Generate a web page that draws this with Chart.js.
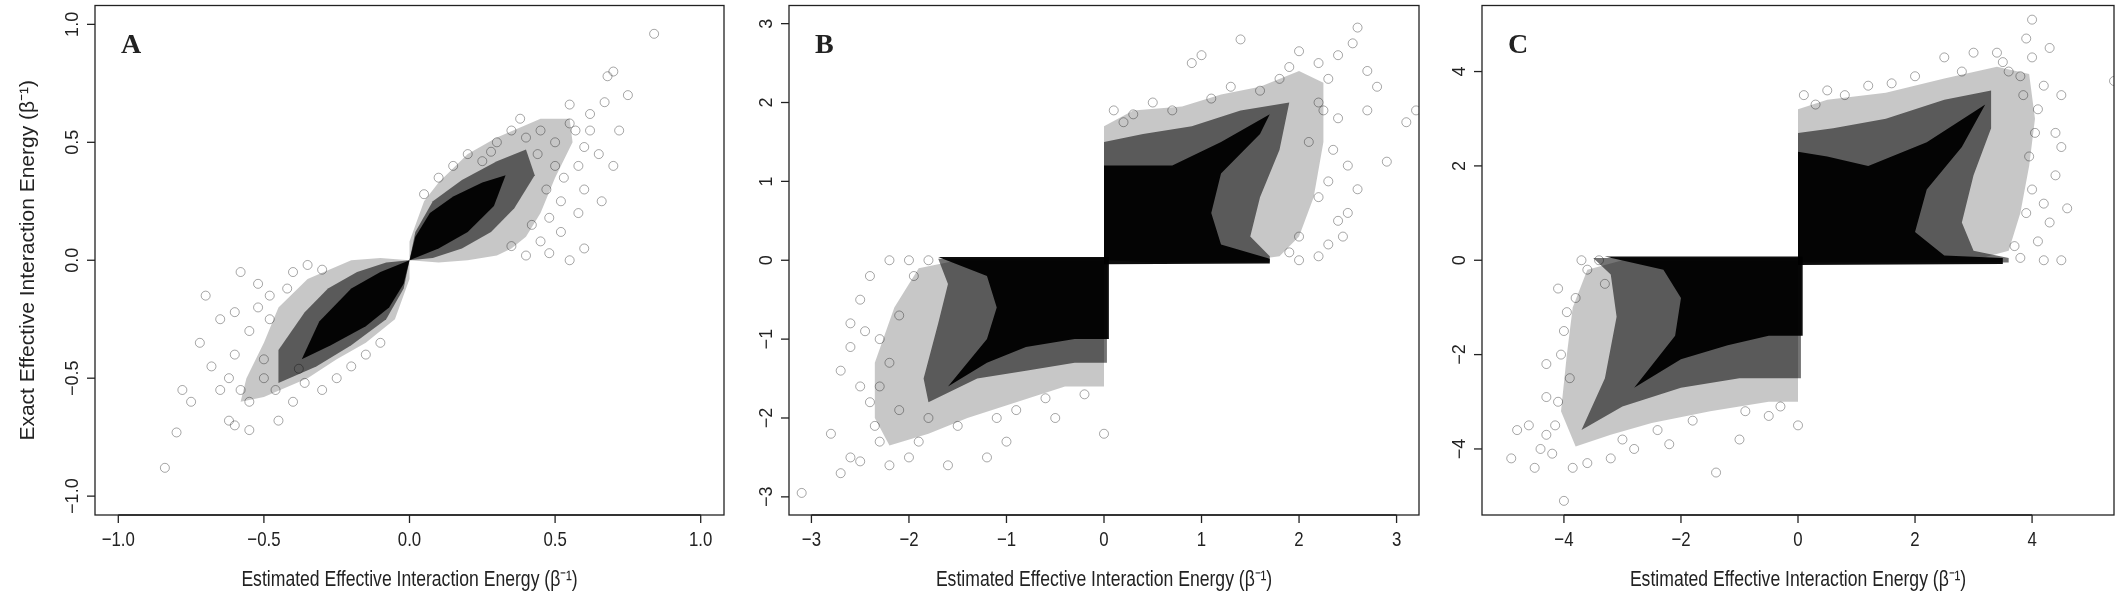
<!DOCTYPE html>
<html><head><meta charset="utf-8">
<script src="https://cdn.jsdelivr.net/npm/chart.js@4"></script>
<style>body{margin:0;background:#fff;width:2120px;height:600px;position:relative;overflow:hidden}
canvas{position:absolute;top:0}</style></head><body>
<canvas id="cA" style="left:0" width="730" height="600"></canvas>
<canvas id="cB" style="left:740px" width="685" height="600"></canvas>
<canvas id="cC" style="left:1430px" width="690" height="600"></canvas>
<script>
// ---- tick labels ----
const ticksA=[-1.0,-0.5,0.0,0.5,1.0];
const ticksB=[-3,-2,-1,0,1,2,3];
const ticksC=[-4,-2,0,2,4];
const xTitle='Estimated Effective Interaction Energy (β\u207B\u00B9)';
const yTitle='Exact Effective Interaction Energy (β\u207B\u00B9)';
// ---- panel A ----
const pointsA=[[0.84,0.96],[0.7,0.8],[0.68,0.78],[0.75,0.7],[0.67,0.67],[0.72,0.55],[0.62,0.62],[0.55,0.66],[0.65,0.45],[0.7,0.4],[0.6,0.3],[0.58,0.2],[0.6,0.05],[0.55,0.0],[0.48,0.03],[0.52,0.12],[0.45,0.55],[0.38,0.6],[0.35,0.55],[0.3,0.5],[0.2,0.45],[0.15,0.4],[0.62,0.55],[0.5,0.5],[0.4,0.02],[0.58,0.4],[0.66,0.25],[0.44,0.45],
[0.55,0.58],[0.5,0.4],[0.47,0.3],[0.52,0.25],[0.42,0.15],[0.45,0.08],[0.35,0.06],[0.28,0.46],[0.25,0.42],[0.1,0.35],[0.05,0.28],[0.6,0.48],[0.57,0.55],[0.4,0.52],[0.53,0.35],[0.48,0.18],
[-0.84,-0.88],[-0.8,-0.73],[-0.78,-0.55],[-0.75,-0.6],[-0.72,-0.35],[-0.7,-0.15],[-0.68,-0.45],[-0.65,-0.25],[-0.62,-0.68],[-0.6,-0.7],[-0.55,-0.72],[-0.58,-0.05],[-0.52,-0.1],[-0.55,-0.3],[-0.6,-0.4],[-0.45,-0.68],[-0.4,-0.6],[-0.3,-0.55],[-0.2,-0.45],[-0.25,-0.5],[-0.5,-0.5],[-0.65,-0.55],[-0.48,-0.15],[-0.4,-0.05],[-0.35,-0.02],
[-0.55,-0.6],[-0.5,-0.42],[-0.48,-0.25],[-0.52,-0.2],[-0.42,-0.12],[-0.3,-0.04],[-0.36,-0.52],[-0.15,-0.4],[-0.1,-0.35],[-0.58,-0.55],[-0.62,-0.5],[-0.46,-0.55],[-0.38,-0.46],[-0.6,-0.22]];
const haloA=[[[0,0],[0,0.08],[0.05,0.25],[0.1,0.33],[0.2,0.45],[0.3,0.52],[0.45,0.6],[0.55,0.6],[0.56,0.5],[0.5,0.35],[0.45,0.2],[0.4,0.1],[0.35,0.05],[0.3,0.02],[0.2,0.0],[0.1,-0.01]],
[[0,0],[0,-0.08],[-0.05,-0.25],[-0.15,-0.35],[-0.25,-0.42],[-0.35,-0.5],[-0.5,-0.58],[-0.58,-0.6],[-0.56,-0.5],[-0.5,-0.35],[-0.45,-0.2],[-0.35,-0.08],[-0.2,0.0],[-0.1,0.01]]];
const midA=[[[0,0],[0.02,0.12],[0.08,0.25],[0.18,0.34],[0.3,0.42],[0.4,0.47],[0.43,0.36],[0.36,0.22],[0.28,0.12],[0.18,0.05],[0.08,0.01]],
[[0,0],[-0.02,-0.12],[-0.08,-0.25],[-0.2,-0.36],[-0.32,-0.45],[-0.45,-0.52],[-0.45,-0.38],[-0.36,-0.22],[-0.28,-0.12],[-0.18,-0.05],[-0.08,-0.01]]];
const coreA=[[[0,0],[0.02,0.1],[0.07,0.2],[0.15,0.27],[0.25,0.33],[0.33,0.36],[0.29,0.23],[0.2,0.12],[0.1,0.05]],
[[0,0],[-0.02,-0.1],[-0.07,-0.2],[-0.15,-0.28],[-0.27,-0.36],[-0.37,-0.42],[-0.31,-0.26],[-0.2,-0.12],[-0.1,-0.05]]];
// ---- panel B ----
const pointsB=[[2.6,2.95],[2.55,2.75],[1.4,2.8],[1.0,2.6],[0.9,2.5],[2.0,2.65],[2.2,2.5],[2.7,2.4],[2.8,2.2],[3.2,1.9],[3.1,1.75],[2.9,1.25],[2.7,1.9],[2.4,1.8],[2.5,1.2],[2.6,0.9],[2.4,0.5],[2.3,0.2],[2.0,0.0],[2.5,0.6],[2.3,1.0],[0.1,1.9],[0.5,2.0],[1.8,2.3],[2.2,2.0],[0.3,1.85],[1.3,2.2],
[2.3,2.3],[2.1,1.5],[2.2,0.8],[2.0,0.3],[1.9,0.1],[2.35,1.4],[2.25,1.9],[1.6,2.15],[1.1,2.05],[0.7,1.9],[0.2,1.75],[2.4,2.6],[1.9,2.45],[2.45,0.3],[2.2,0.05],
[-3.1,-2.95],[-2.8,-2.2],[-2.6,-2.5],[-2.7,-2.7],[-2.5,-2.55],[-2.3,-2.3],[-2.7,-1.4],[-2.6,-1.1],[-2.5,-0.5],[-2.4,-0.2],[-2.2,0.0],[-2.6,-0.8],[-2.3,-1.6],[-2.0,-2.5],[-1.6,-2.6],[-1.2,-2.5],[-1.0,-2.3],[-0.5,-2.0],[0.0,-2.2],[-1.8,-2.0],[-2.0,0.0],[-2.3,-1.0],[-2.1,-1.9],[-0.9,-1.9],
[-2.35,-2.1],[-2.2,-1.3],[-2.1,-0.7],[-1.95,-0.2],[-1.8,0.0],[-2.4,-1.8],[-1.5,-2.1],[-1.1,-2.0],[-0.6,-1.75],[-0.2,-1.7],[-2.5,-1.6],[-2.2,-2.6],[-1.9,-2.3],[-2.45,-0.9]];
const haloB=[[[0,0],[0,1.7],[0.3,1.9],[0.8,1.95],[1.2,2.1],[1.6,2.2],[2.0,2.4],[2.25,2.25],[2.25,1.5],[2.15,0.8],[2.0,0.3],[1.8,0.05],[1.5,0.0]],
[[0,0],[-1.5,0.0],[-1.9,-0.1],[-2.15,-0.6],[-2.35,-1.3],[-2.35,-2.0],[-2.2,-2.35],[-1.8,-2.2],[-1.4,-2.0],[-0.9,-1.8],[-0.4,-1.6],[0,-1.6]]];
const midB=[[[0,0],[0,1.5],[0.4,1.6],[0.9,1.7],[1.4,1.9],[1.9,2.0],[1.8,1.4],[1.6,0.8],[1.5,0.3],[1.7,0.05],[1.7,-0.02],[0.5,-0.03]],
[[0.03,0.03],[-1.7,0.02],[-1.6,-0.3],[-1.7,-0.8],[-1.85,-1.5],[-1.8,-1.8],[-1.3,-1.5],[-0.8,-1.4],[-0.3,-1.3],[0.03,-1.3]]];
const coreB=[[[0,-0.05],[0,1.2],[0.3,1.2],[0.7,1.2],[1.2,1.5],[1.7,1.85],[1.6,1.6],[1.2,1.1],[1.1,0.6],[1.2,0.2],[1.7,0.02],[1.7,-0.04]],
[[0.05,0.04],[-1.7,0.04],[-1.2,-0.2],[-1.1,-0.6],[-1.2,-1.0],[-1.6,-1.6],[-1.2,-1.3],[-0.8,-1.1],[-0.3,-1.0],[0.05,-1.0]]];
// ---- panel C ----
const pointsC=[[4.0,5.1],[3.9,4.7],[3.4,4.4],[3.0,4.4],[2.5,4.3],[4.3,4.5],[4.0,4.3],[4.5,3.5],[4.5,2.4],[4.4,1.8],[4.6,1.1],[4.5,0.0],[4.2,0.0],[4.3,0.8],[5.4,3.8],[4.2,3.7],[3.6,4.0],[1.2,3.7],[2.0,3.9],[0.5,3.6],[0.1,3.5],[4.0,1.5],[4.4,2.7],[3.8,3.9],
[4.1,3.2],[3.95,2.2],[3.9,1.0],[3.7,0.3],[3.8,0.05],[4.05,2.7],[3.5,4.2],[2.8,4.0],[1.6,3.75],[0.8,3.5],[0.3,3.3],[4.2,1.2],[3.85,3.5],[4.1,0.4],
[-4.0,-5.1],[-4.9,-4.2],[-4.5,-4.4],[-4.3,-3.7],[-4.6,-3.5],[-4.8,-3.6],[-4.3,-2.2],[-4.0,-1.5],[-3.8,-0.8],[-3.7,0.0],[-4.1,-3.0],[-3.6,-4.3],[-3.2,-4.2],[-2.8,-4.0],[-1.4,-4.5],[-1.0,-3.8],[-0.5,-3.3],[0.0,-3.5],[-4.4,-4.0],[-3.3,-0.5],[-3.9,-2.5],[-2.2,-3.9],
[-4.15,-3.5],[-4.05,-2.0],[-3.95,-1.1],[-3.6,-0.2],[-3.4,0.0],[-4.2,-4.1],[-3.0,-3.8],[-2.4,-3.6],[-1.8,-3.4],[-0.9,-3.2],[-0.3,-3.1],[-4.3,-2.9],[-3.85,-4.4],[-4.1,-0.6]];
const haloC=[[[0,0],[0,3.2],[0.5,3.4],[1.5,3.55],[2.5,3.85],[3.4,4.1],[3.95,3.95],[4.05,3.0],[3.95,2.0],[3.8,1.0],[3.6,0.2],[3.0,0.0]],
[[0,0],[-3.0,0.0],[-3.6,-0.2],[-3.85,-1.0],[-3.95,-2.0],[-4.05,-3.2],[-3.8,-3.95],[-3.2,-3.7],[-2.5,-3.45],[-1.5,-3.2],[-0.5,-3.0],[0,-3.0]]];
const midC=[[[0,-0.05],[0,2.7],[0.6,2.8],[1.5,3.0],[2.5,3.4],[3.3,3.6],[3.3,2.8],[3.0,1.8],[2.8,0.8],[3.0,0.2],[3.6,0.05],[3.6,-0.05]],
[[0.05,0.05],[-3.5,0.05],[-3.2,-0.3],[-3.1,-1.2],[-3.3,-2.5],[-3.7,-3.6],[-3.0,-3.1],[-2.0,-2.7],[-1.0,-2.5],[0.05,-2.5]]];
const coreC=[[[0,-0.1],[0,2.3],[0.5,2.2],[1.2,2.0],[2.2,2.5],[3.2,3.3],[2.8,2.4],[2.2,1.5],[2.0,0.6],[2.5,0.1],[3.5,0.05],[3.5,-0.08]],
[[0.08,0.08],[-3.3,0.08],[-2.3,-0.2],[-2.0,-0.8],[-2.1,-1.6],[-2.8,-2.7],[-2.0,-2.1],[-1.2,-1.8],[-0.5,-1.6],[0.08,-1.6]]];

function fmt(v,dec){return (v<0?'\u2212':'')+Math.abs(v).toFixed(dec);}
function narrowText(c,txt,x,y,size){c.save();c.translate(x,y);c.scale(0.8,1);c.font=size+'px "Liberation Sans",Arial,sans-serif';c.fillText(txt,0,0);c.restore();}
function make(id,o){
  const decor={id:'decor',
    beforeDatasetsDraw(ch){
      const c=ch.ctx,xs=ch.scales.x,ys=ch.scales.y;
      const layers=[[o.halo,'rgba(0,0,0,0.22)'],[o.mid,'rgba(0,0,0,0.55)'],[o.core,'rgba(0,0,0,0.95)']];
      c.save();
      c.beginPath();c.rect(ch.chartArea.left,ch.chartArea.top,ch.chartArea.width,ch.chartArea.height);c.clip();
      for(const [polys,col] of layers){for(const p of polys){
        c.beginPath();p.forEach((q,i)=>{const X=xs.getPixelForValue(q[0]),Y=ys.getPixelForValue(q[1]);i?c.lineTo(X,Y):c.moveTo(X,Y);});
        c.closePath();c.fillStyle=col;c.fill();}}
      c.restore();
    },
    afterDraw(ch){
      const c=ch.ctx,a=ch.chartArea,xs=ch.scales.x,ys=ch.scales.y;
      c.save();c.strokeStyle='#222';c.lineWidth=1.3;
      c.strokeRect(a.left,a.top,a.width,a.height);
      c.fillStyle='#222';
      const xt=o.ticks, x0=xs.getPixelForValue(xt[0]), x1=xs.getPixelForValue(xt[xt.length-1]);
      c.beginPath();c.moveTo(x0,a.bottom);c.lineTo(x1,a.bottom);c.stroke();
      c.textAlign='center';c.textBaseline='middle';
      for(const t of xt){const X=xs.getPixelForValue(t);c.beginPath();c.moveTo(X,a.bottom);c.lineTo(X,a.bottom+8);c.stroke();
        narrowText(c,fmt(t,o.dec),X,a.bottom+25,21);}
      narrowText(c,xTitle,(a.left+a.right)/2,a.bottom+65,22);
      for(const t of xt){const Y=ys.getPixelForValue(t);c.beginPath();c.moveTo(a.left,Y);c.lineTo(a.left-8,Y);c.stroke();
        c.save();c.translate(a.left-22,Y);c.rotate(-Math.PI/2);c.font='18px "Liberation Sans",Arial,sans-serif';c.fillText(fmt(t,o.dec),0,0);c.restore();}
      if(o.ytitle){c.save();c.translate(28,(a.top+a.bottom)/2);c.rotate(-Math.PI/2);c.font='21px "Liberation Sans",Arial,sans-serif';c.fillText(yTitle,0,0);c.restore();}
      c.font='bold 28px "Liberation Serif","Times New Roman",serif';c.textAlign='left';
      c.fillText(o.letter,a.left+26,a.top+40);
      c.restore();
    }};
  new Chart(document.getElementById(id),{type:'scatter',
    data:{datasets:[{data:o.pts.map(p=>({x:p[0],y:p[1]})),pointRadius:4.5,pointBorderWidth:1,
      pointBackgroundColor:'rgba(0,0,0,0)',pointBorderColor:'rgba(0,0,0,0.35)'}]},
    options:{responsive:false,animation:false,events:[],
      layout:{padding:{left:o.pl,right:6,top:5,bottom:85}},
      plugins:{legend:{display:false},tooltip:{enabled:false}},
      scales:{x:{display:false,min:-o.r,max:o.r},y:{display:false,min:-o.r,max:o.r}}},
    plugins:[decor]});
}
make('cA',{pts:pointsA,halo:haloA,mid:midA,core:coreA,ticks:ticksA,dec:1,r:1.08,pl:95,letter:'A',ytitle:true});
make('cB',{pts:pointsB,halo:haloB,mid:midB,core:coreB,ticks:ticksB,dec:0,r:3.23,pl:49,letter:'B'});
make('cC',{pts:pointsC,halo:haloC,mid:midC,core:coreC,ticks:ticksC,dec:0,r:5.4,pl:52,letter:'C'});
</script></body></html>
